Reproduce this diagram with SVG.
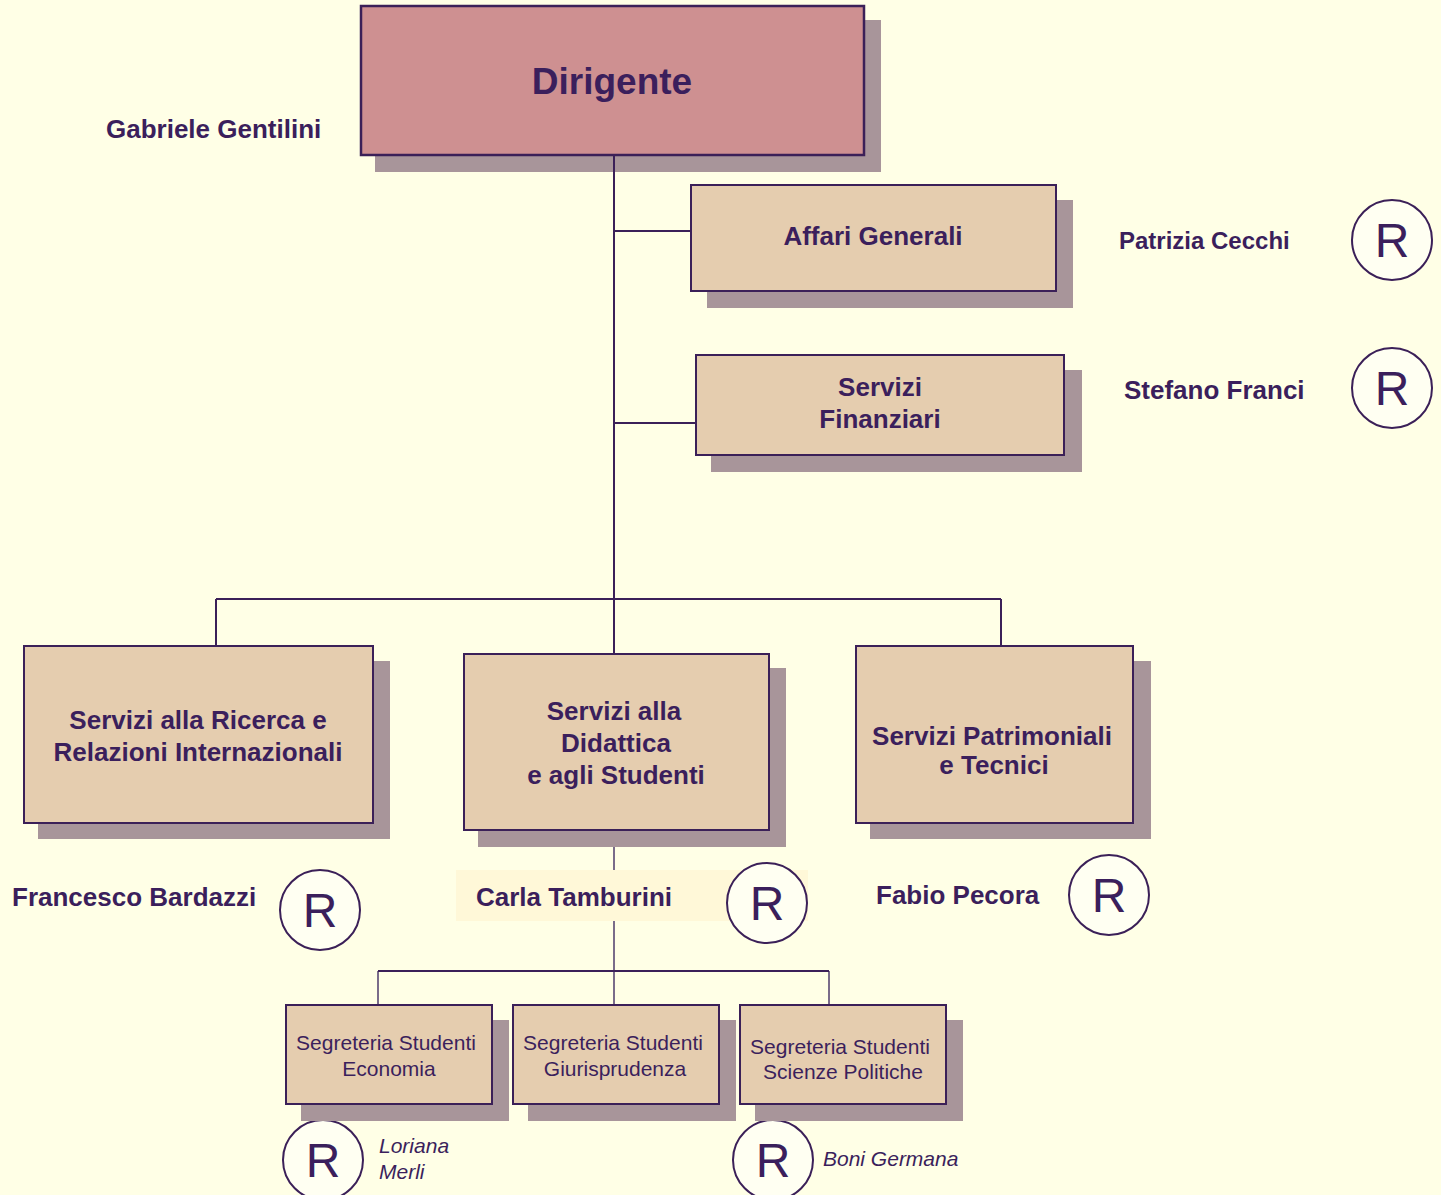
<svg xmlns="http://www.w3.org/2000/svg" width="1441" height="1195" viewBox="0 0 1441 1195">
<style>
.bg{fill:#FFFFE6}
.sh{fill:#A8959A}
.box{fill:#E5CDAF;stroke:#3B2058;stroke-width:2}
.top{fill:#CE9091;stroke:#3B2058;stroke-width:2.5}
.ln{stroke:#3B2058;stroke-width:2;fill:none}
.ln2{stroke:#7A6C8A;stroke-width:2;fill:none}
.c{fill:#FFFFF2;stroke:#3B2058;stroke-width:2}
text{font-family:"Liberation Sans",Arial,sans-serif;fill:#3B1F5C}
.b{font-weight:bold;font-size:26px}
.bm{text-anchor:middle}
.r{font-size:48px;text-anchor:middle}
.s{font-size:21px;text-anchor:middle}
.i{font-size:21px;font-style:italic}
</style>
<rect class="bg" x="0" y="0" width="1441" height="1195"/>
<g id="dirigente">
<rect class="sh" x="375" y="20" width="506" height="152"/>
<rect class="top" x="361" y="6" width="503" height="149"/>
<text class="bm" x="612" y="94" style="font-weight:bold;font-size:37px">Dirigente</text>
</g>
<g id="connectors">
<path class="ln" d="M614 155V654M614 231H691M614 423H696M216 599H1001M216 599V646M1001 599V646"/>
<path class="ln2" d="M614 847V970M378 971V1005M614 971V1005M829 971V1005"/>
<path class="ln" d="M378 971H829"/>
</g>
<g id="gentilini"><text class="b" x="106" y="138">Gabriele Gentilini</text></g>
<g id="affari">
<rect class="sh" x="707" y="200" width="366" height="108"/>
<rect class="box" x="691" y="185" width="365" height="106"/>
<text class="b bm" x="873" y="245">Affari Generali</text>
</g>
<g id="cecchi">
<text class="b" x="1119" y="249" style="font-size:24px">Patrizia Cecchi</text>
<circle class="c" cx="1392" cy="240" r="40"/>
<text class="r" x="1392" y="257">R</text>
</g>
<g id="finanziari">
<rect class="sh" x="711" y="370" width="371" height="102"/>
<rect class="box" x="696" y="355" width="368" height="100"/>
<text class="b bm" x="880" y="396">Servizi</text>
<text class="b bm" x="880" y="428">Finanziari</text>
</g>
<g id="franci">
<text class="b" x="1124" y="399">Stefano Franci</text>
<circle class="c" cx="1392" cy="388" r="40"/>
<text class="r" x="1392" y="405">R</text>
</g>
<g id="ricerca">
<rect class="sh" x="38" y="661" width="352" height="178"/>
<rect class="box" x="24" y="646" width="349" height="177"/>
<text class="b bm" x="198" y="729">Servizi alla Ricerca e</text>
<text class="b bm" x="198" y="761">Relazioni Internazionali</text>
</g>
<g id="didattica">
<rect class="sh" x="478" y="668" width="308" height="179"/>
<rect class="box" x="464" y="654" width="305" height="176"/>
<text class="b bm" x="614" y="720">Servizi alla</text>
<text class="b bm" x="616" y="752">Didattica</text>
<text class="b bm" x="616" y="784">e agli Studenti</text>
</g>
<g id="patrimoniali">
<rect class="sh" x="870" y="661" width="281" height="178"/>
<rect class="box" x="856" y="646" width="277" height="177"/>
<text class="b bm" x="992" y="745">Servizi Patrimoniali</text>
<text class="b bm" x="994" y="774">e Tecnici</text>
</g>
<g id="bardazzi">
<text class="b" x="12" y="906">Francesco Bardazzi</text>
<circle class="c" cx="320" cy="910" r="40"/>
<text class="r" x="320" y="927">R</text>
</g>
<g id="tamburini">
<rect x="456" y="870" width="352" height="51" fill="#FFF8D8"/>
<text class="b" x="476" y="906">Carla Tamburini</text>
<circle class="c" cx="767" cy="903" r="40"/>
<text class="r" x="767" y="920">R</text>
</g>
<g id="pecora">
<text class="b" x="876" y="904">Fabio Pecora</text>
<circle class="c" cx="1109" cy="895" r="40"/>
<text class="r" x="1109" y="912">R</text>
</g>
<g id="merli">
<circle class="c" cx="323" cy="1160" r="40"/>
<text class="r" x="323" y="1177">R</text>
<text class="i" x="379" y="1153">Loriana</text>
<text class="i" x="379" y="1179">Merli</text>
</g>
<g id="germana">
<circle class="c" cx="773" cy="1160" r="40"/>
<text class="r" x="773" y="1177">R</text>
<text class="i" x="823" y="1166">Boni Germana</text>
</g>
<g id="economia">
<rect class="sh" x="301" y="1020" width="208" height="101"/>
<rect class="box" x="286" y="1005" width="206" height="99"/>
<text class="s" x="386" y="1050">Segreteria Studenti</text>
<text class="s" x="389" y="1076">Economia</text>
</g>
<g id="giurisprudenza">
<rect class="sh" x="528" y="1020" width="208" height="101"/>
<rect class="box" x="513" y="1005" width="206" height="99"/>
<text class="s" x="613" y="1050">Segreteria Studenti</text>
<text class="s" x="615" y="1076">Giurisprudenza</text>
</g>
<g id="scienze">
<rect class="sh" x="755" y="1020" width="208" height="101"/>
<rect class="box" x="740" y="1005" width="206" height="99"/>
<text class="s" x="840" y="1054">Segreteria Studenti</text>
<text class="s" x="843" y="1079">Scienze Politiche</text>
</g>
</svg>
